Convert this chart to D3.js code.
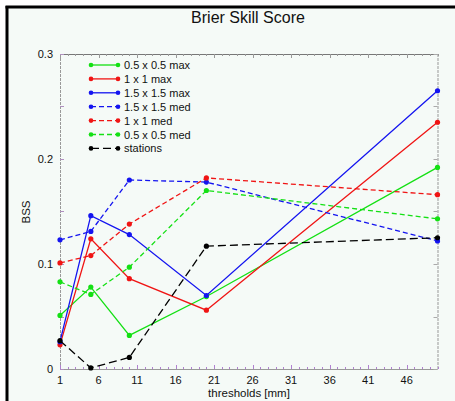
<!DOCTYPE html>
<html>
<head>
<meta charset="utf-8">
<script src="https://cdn.jsdelivr.net/npm/d3@7"></script>
<style>
  body { margin: 0; background: #fff; }
  text { font-family: "Liberation Sans", Arial, Helvetica, sans-serif; fill: #111; }
</style>
</head>
<body>
<script>
// thresholds in mm
var thresholds = [1, 5, 10, 20, 50];

var seriesNames = ["0.5 x 0.5 max", "1 x 1 max", "1.5 x 1.5 max", "1.5 x 1.5 med", "1 x 1 med", "0.5 x 0.5 med", "stations"];

var max05 = [0.051, 0.078, 0.032, 0.069, 0.192];
var max1  = [0.023, 0.124, 0.086, 0.056, 0.235];
var max15 = [0.026, 0.146, 0.128, 0.070, 0.265];
var med15 = [0.123, 0.131, 0.180, 0.178, 0.122];
var med1  = [0.101, 0.108, 0.138, 0.182, 0.166];
var med05 = [0.083, 0.071, 0.097, 0.170, 0.143];
var stations = [0.027, 0.001, 0.011, 0.117, 0.125];

var xTicks = [1, 6, 11, 16, 21, 26, 31, 36, 41, 46];
var yTicks = [0, 0.1, 0.2, 0.3];

var green = "#14e014", red = "#f01414", blue = "#1414f0";
var series = [
  { name: seriesNames[0], vals: max05, color: green, dash: null },
  { name: seriesNames[1], vals: max1, color: red, dash: null },
  { name: seriesNames[2], vals: max15, color: blue, dash: null },
  { name: seriesNames[3], vals: med15, color: blue, dash: "5,3" },
  { name: seriesNames[4], vals: med1, color: red, dash: "5,3" },
  { name: seriesNames[5], vals: med05, color: green, dash: "5,3" },
  { name: seriesNames[6], vals: stations, color: "#000", dash: "8,4" }
];

var w = 455, h = 401;
var pLeft = 60, pRight = 437.5, pTop = 54, pBottom = 369;

var svg = d3.select("body").append("svg")
  .attr("width", w).attr("height", h);

// panel background with heavy top/left frame
svg.append("rect").attr("x", 6).attr("y", 6).attr("width", w).attr("height", h)
  .attr("fill", "#f5faf7");
svg.append("line").attr("x1", 5.5).attr("x2", w).attr("y1", 7).attr("y2", 7)
  .attr("stroke", "#000").attr("stroke-width", 3);
svg.append("line").attr("x1", 7).attr("x2", 7).attr("y1", 6).attr("y2", h)
  .attr("stroke", "#000").attr("stroke-width", 3);

var x = d3.scaleLinear().domain([1, 50]).range([pLeft, pRight]);
var y = d3.scaleLinear().domain([0, 0.3]).range([pBottom, pTop]);

// frame
svg.append("line").attr("x1", pLeft).attr("x2", pRight).attr("y1", pTop + 0.5).attr("y2", pTop + 0.5)
  .attr("stroke", "#777");
svg.append("line").attr("x1", pLeft).attr("x2", pRight).attr("y1", pBottom + 0.5).attr("y2", pBottom + 0.5)
  .attr("stroke", "#999");
svg.append("line").attr("x1", pLeft + 0.5).attr("x2", pLeft + 0.5).attr("y1", pTop).attr("y2", pBottom)
  .attr("stroke", "#999").attr("stroke-dasharray", "3,1");
svg.append("line").attr("x1", pRight + 0.5).attr("x2", pRight + 0.5).attr("y1", pTop).attr("y2", pBottom)
  .attr("stroke", "#999").attr("stroke-dasharray", "3,1");

// minor x ticks every unit
var xMinor = d3.range(1, 51);
svg.selectAll(".xminor").data(xMinor).enter().append("line")
  .attr("x1", function(d) { return Math.round(x(d)) + 0.5; })
  .attr("x2", function(d) { return Math.round(x(d)) + 0.5; })
  .attr("y1", pBottom).attr("y2", function(d) { return xTicks.indexOf(d) >= 0 ? pBottom - 4 : pBottom - 2; })
  .attr("stroke", "#b080d0");
svg.selectAll(".xtop").data(xMinor).enter().append("line")
  .attr("x1", function(d) { return Math.round(x(d)) + 0.5; })
  .attr("x2", function(d) { return Math.round(x(d)) + 0.5; })
  .attr("y1", pTop).attr("y2", function(d) { return xTicks.indexOf(d) >= 0 ? pTop + 4 : pTop + 2; })
  .attr("stroke", "#999");

var yMinor = d3.range(0, 0.301, 0.05);
svg.selectAll(".yminor").data(yMinor).enter().append("line")
  .attr("x1", pLeft).attr("x2", pLeft + 4)
  .attr("y1", function(d) { return Math.round(y(d)) + 0.5; })
  .attr("y2", function(d) { return Math.round(y(d)) + 0.5; })
  .attr("stroke", "#b090c0");
svg.selectAll(".yright").data(yMinor).enter().append("line")
  .attr("x1", pRight - 4).attr("x2", pRight)
  .attr("y1", function(d) { return Math.round(y(d)) + 0.5; })
  .attr("y2", function(d) { return Math.round(y(d)) + 0.5; })
  .attr("stroke", "#aaa");

// tick labels
svg.selectAll(".xlab").data(xTicks).enter().append("text")
  .attr("x", function(d) { return x(d); })
  .attr("y", 384)
  .attr("text-anchor", "middle")
  .attr("font-size", "11px")
  .text(function(d) { return d; });

svg.selectAll(".ylab").data(yTicks).enter().append("text")
  .attr("x", 53)
  .attr("y", function(d) { return y(d) + 4; })
  .attr("text-anchor", "end")
  .attr("font-size", "11px")
  .text(function(d) { return d === 0 ? "0" : d3.format(".1f")(d); });

// titles
svg.append("text").attr("x", 248).attr("y", 23).attr("text-anchor", "middle")
  .attr("font-size", "16px").text("Brier Skill Score");
svg.append("text").attr("x", 249).attr("y", 397).attr("text-anchor", "middle")
  .attr("font-size", "11.5px").text("thresholds [mm]");
svg.append("text").attr("transform", "translate(30,212) rotate(-90)")
  .attr("text-anchor", "middle").attr("font-size", "11.5px").text("BSS");

// series lines
var line = d3.line()
  .x(function(d, i) { return x(thresholds[i]); })
  .y(function(d) { return y(d); });

var g = svg.append("g");
series.forEach(function(s) {
  g.append("path")
    .attr("d", line(s.vals))
    .attr("fill", "none")
    .attr("stroke", s.color)
    .attr("stroke-width", 1.3)
    .attr("stroke-dasharray", s.dash);
  g.selectAll(null).data(s.vals).enter().append("circle")
    .attr("cx", function(d, i) { return x(thresholds[i]); })
    .attr("cy", function(d) { return y(d); })
    .attr("r", 2.6)
    .attr("fill", s.color);
});

// legend
var legend = svg.append("g");
series.forEach(function(s, i) {
  var ly = 65 + i * 13.9;
  legend.append("line")
    .attr("x1", 91).attr("x2", 118).attr("y1", ly).attr("y2", ly)
    .attr("stroke", s.color).attr("stroke-width", 1.3)
    .attr("stroke-dasharray", s.dash);
  legend.append("circle").attr("cx", 91).attr("cy", ly).attr("r", 2.3).attr("fill", s.color);
  legend.append("circle").attr("cx", 118).attr("cy", ly).attr("r", 2.3).attr("fill", s.color);
  legend.append("text").attr("x", 124).attr("y", ly + 4)
    .attr("font-size", "11px").text(s.name);
});
</script>
</body>
</html>
